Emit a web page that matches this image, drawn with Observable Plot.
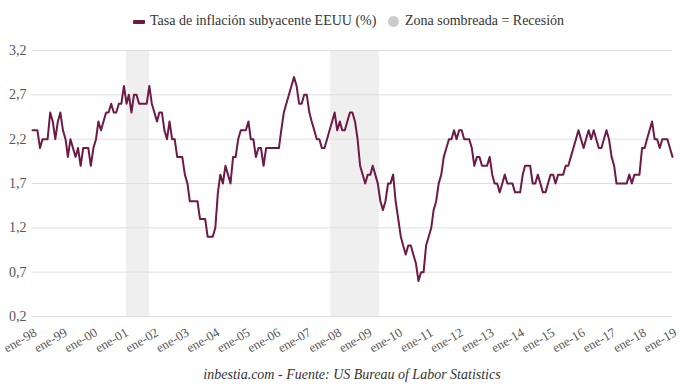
<!DOCTYPE html>
<html>
<head>
<meta charset="utf-8">
<script src="https://cdn.jsdelivr.net/npm/d3@7"></script>
<script src="https://cdn.jsdelivr.net/npm/@observablehq/plot@0.6"></script>
<style>
  html, body { margin: 0; padding: 0; background: #fff; }
  #wrap { position: relative; width: 680px; height: 392px; font-family: "Liberation Serif", serif; }
  #legend { position: absolute; left: 0; top: 0; width: 680px; height: 40px; font-size: 14px; color: #333; }
  #legend .sw { position: absolute; left: 133px; top: 20px; width: 12px; height: 4px; background: #6d1a47; border-radius: 1px; }
  #legend .t1 { position: absolute; left: 150px; top: 13px; line-height: 16px; white-space: nowrap; }
  #legend .dot { position: absolute; left: 388px; top: 16px; width: 11px; height: 11px; border-radius: 50%; background: #cccccc; }
  #legend .t2 { position: absolute; left: 405px; top: 13px; line-height: 16px; white-space: nowrap; }
  #chart { position: absolute; left: 0; top: 40px; }
  #caption { position: absolute; left: 0; top: 366px; width: 656px; padding-left: 24px; text-align: center; font-style: italic; font-size: 14px; line-height: 18px; color: #333; }
</style>
</head>
<body>
<div id="wrap">
  <div id="legend">
    <span class="sw"></span><span class="t1">Tasa de inflación subyacente EEUU (%)</span>
    <span class="dot"></span><span class="t2">Zona sombreada = Recesión</span>
  </div>
  <div id="chart"></div>
  <div id="caption">inbestia.com - Fuente: US Bureau of Labor Statistics</div>
</div>
<script>
// Monthly core inflation rate (%), January 1998 to January 2019
const firstYear = 1998;
const values = [
  2.3, 2.3, 2.3, 2.1, 2.2, 2.2, 2.2, 2.5, 2.4, 2.2, 2.4, 2.5, // 1998
  2.3, 2.2, 2.0, 2.2, 2.1, 2.0, 2.1, 1.9, 2.1, 2.1, 2.1, 1.9, // 1999
  2.1, 2.2, 2.4, 2.3, 2.4, 2.5, 2.5, 2.6, 2.5, 2.5, 2.6, 2.6, // 2000
  2.8, 2.6, 2.7, 2.5, 2.7, 2.7, 2.6, 2.6, 2.6, 2.6, 2.8, 2.6, // 2001
  2.5, 2.4, 2.5, 2.5, 2.3, 2.2, 2.4, 2.2, 2.2, 2.0, 2.0, 2.0, // 2002
  1.8, 1.7, 1.5, 1.5, 1.5, 1.5, 1.3, 1.3, 1.3, 1.1, 1.1, 1.1, // 2003
  1.2, 1.6, 1.8, 1.7, 1.9, 1.8, 1.7, 2.0, 2.0, 2.2, 2.3, 2.3, // 2004
  2.3, 2.4, 2.2, 2.2, 2.0, 2.1, 2.1, 1.9, 2.1, 2.1, 2.1, 2.1, // 2005
  2.1, 2.1, 2.3, 2.5, 2.6, 2.7, 2.8, 2.9, 2.8, 2.6, 2.6, 2.7, // 2006
  2.7, 2.5, 2.4, 2.3, 2.2, 2.2, 2.1, 2.1, 2.2, 2.3, 2.4, 2.5, // 2007
  2.3, 2.4, 2.3, 2.3, 2.4, 2.5, 2.5, 2.4, 2.2, 1.9, 1.8, 1.7, // 2008
  1.8, 1.8, 1.9, 1.8, 1.7, 1.5, 1.4, 1.5, 1.7, 1.7, 1.8, 1.5, // 2009
  1.3, 1.1, 1.0, 0.9, 1.0, 1.0, 0.9, 0.8, 0.6, 0.7, 0.7, 1.0, // 2010
  1.1, 1.2, 1.4, 1.5, 1.7, 1.8, 2.0, 2.1, 2.2, 2.2, 2.3, 2.2, // 2011
  2.3, 2.3, 2.2, 2.2, 2.2, 2.1, 1.9, 2.0, 2.0, 1.9, 1.9, 1.9, // 2012
  2.0, 1.8, 1.7, 1.7, 1.6, 1.7, 1.8, 1.7, 1.7, 1.7, 1.6, 1.6, // 2013
  1.6, 1.8, 1.9, 1.9, 1.9, 1.7, 1.7, 1.8, 1.7, 1.6, 1.6, 1.7, // 2014
  1.8, 1.8, 1.7, 1.8, 1.8, 1.8, 1.9, 1.9, 2.0, 2.1, 2.2, 2.3, // 2015
  2.2, 2.1, 2.2, 2.3, 2.2, 2.3, 2.2, 2.1, 2.1, 2.2, 2.3, 2.2, // 2016
  2.0, 1.9, 1.7, 1.7, 1.7, 1.7, 1.7, 1.8, 1.7, 1.8, 1.8, 1.8, // 2017
  2.1, 2.1, 2.2, 2.3, 2.4, 2.2, 2.2, 2.1, 2.2, 2.2, 2.2, 2.1, // 2018
  2.0                                                         // 2019
];

// Recession periods (shaded)
const recessionStart = ["2001-02-01", "2007-10-15"];
const recessionEnd   = ["2001-11-05", "2009-05-20"];

// Axis ticks
const yTicks = [0.2, 0.7, 1.2, 1.7, 2.2, 2.7, 3.2];
const xTickYears = [1998, 1999, 2000, 2001, 2002, 2003, 2004, 2005, 2006, 2007, 2008,
                    2009, 2010, 2011, 2012, 2013, 2014, 2015, 2016, 2017, 2018, 2019];
const xTickLabels = ["ene-98", "ene-99", "ene-00", "ene-01", "ene-02", "ene-03", "ene-04",
                     "ene-05", "ene-06", "ene-07", "ene-08", "ene-09", "ene-10", "ene-11",
                     "ene-12", "ene-13", "ene-14", "ene-15", "ene-16", "ene-17", "ene-18", "ene-19"];

const data = values.map((v, i) => ({ date: new Date(Date.UTC(firstYear, i, 1)), value: v }));
const recessions = recessionStart.map((s, i) => ({ x1: new Date(s), x2: new Date(recessionEnd[i]) }));
const tickDates = xTickYears.map(y => new Date(Date.UTC(y, 0, 1)));
const labelOf = new Map(tickDates.map((d, i) => [+d, xTickLabels[i]]));

const chart = Plot.plot({
  width: 680,
  height: 326,
  marginLeft: 32,
  marginRight: 8,
  marginTop: 10,
  marginBottom: 50,
  style: { fontFamily: "'Liberation Serif', serif", fontSize: "14px", color: "#555", background: "transparent" },
  x: { type: "utc", domain: [tickDates[0], tickDates[tickDates.length - 1]] },
  y: { domain: [0.2, 3.2] },
  marks: [
    Plot.rect(recessions, { x1: "x1", x2: "x2", y1: () => 0.2, y2: () => 3.2, fill: "#efefef" }),
    Plot.ruleY(yTicks, { stroke: "#dedede", strokeWidth: 1 }),
    Plot.axisY({ ticks: yTicks, tickSize: 0, tickPadding: 6, label: null, fontSize: 14,
                 tickFormat: d => d.toFixed(1).replace(".", ",") }),
    Plot.axisX({ ticks: tickDates, tickSize: 0, tickPadding: 4, tickRotate: -30, label: null, fontSize: 13,
                 dx: 3, dy: 11, tickFormat: d => labelOf.get(+d) }),
    Plot.line(data, { x: "date", y: "value", stroke: "#6d1a47", strokeWidth: 2 })
  ]
});
document.getElementById("chart").appendChild(chart);
</script>
</body>
</html>
